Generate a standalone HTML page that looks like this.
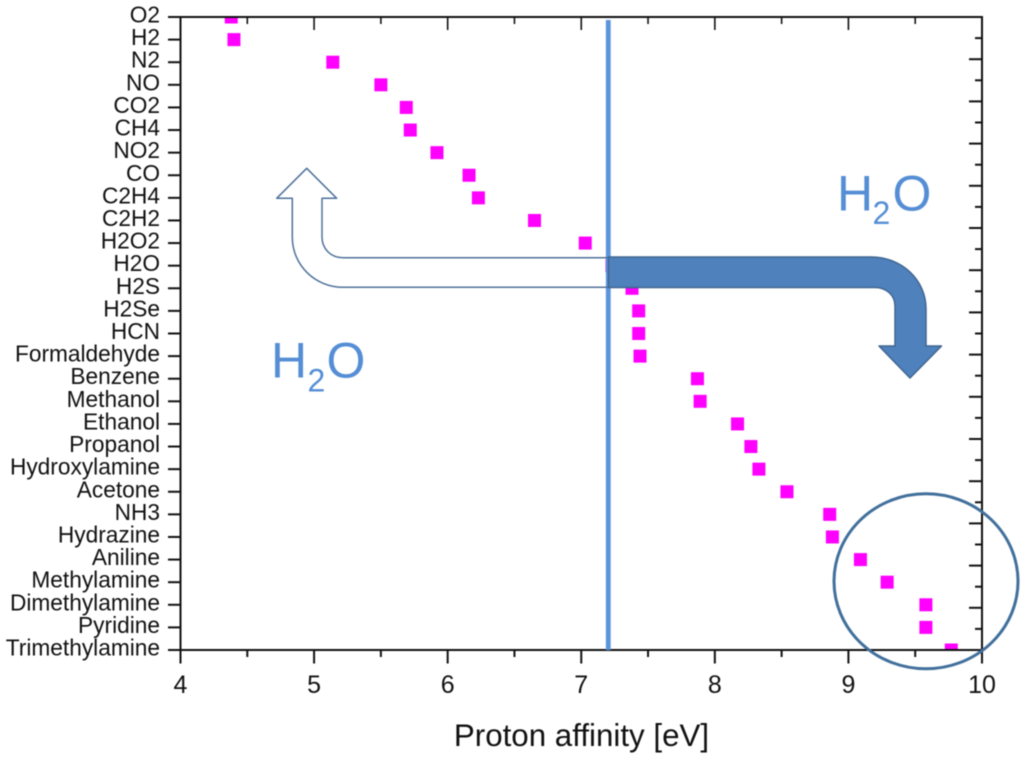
<!DOCTYPE html>
<html lang="en">
<head>
<meta charset="utf-8">
<title>Proton affinity chart</title>
<style>
  html, body { margin: 0; padding: 0; background: #fff; }
  body { width: 1024px; height: 758px; overflow: hidden; }
  svg { display: block; filter: blur(0.4px); }
  text { font-family: "Liberation Sans", sans-serif; fill: #111; }
</style>
</head>
<body>
<svg id="chart" xmlns="http://www.w3.org/2000/svg" width="1024" height="758" viewBox="0 0 1024 758">
  <defs>
    <clipPath id="plot-clip"><rect x="180.5" y="17" width="801.5" height="633"></rect></clipPath>
  </defs>
  <rect x="0" y="0" width="1024" height="758" fill="#ffffff"></rect>
  <g id="markers" clip-path="url(#plot-clip)"></g>
  <g id="axes"></g>
  <g id="threshold"></g>

  <path fill="none" stroke="#4f719b" stroke-width="1.5" stroke-linejoin="round"
        d="M608 257.7 H343 C330 257.7 322 248 322 237 V198.3 H336.7 L306.7 168.3 L276.7 198.3 H292.3 V237 C292.3 266 316 287.3 343 287.3 H608"></path>
  <path fill="#4f81bd" stroke="#3f6590" stroke-width="1.5" stroke-linejoin="round"
        d="M608.5 257 H871 C902 257 926 280 926 309 V346 H941.5 L910 378 L879 346 H895 V306 C895 295 886 287.5 875 287.5 H608.5 Z"></path>
  <ellipse cx="926" cy="581.3" rx="92" ry="87.5" fill="none" stroke="#41709c" stroke-width="3"></ellipse>

  <g style="font-size:50px">
    <text x="271" y="377.7" style="fill:#558ed5">H</text>
    <text x="307.5" y="391.7" style="fill:#558ed5;font-size:32px">2</text>
    <text x="326.5" y="377.7" style="fill:#558ed5">O</text>
  </g>
  <g style="font-size:50px">
    <text x="837" y="210.3" style="fill:#558ed5">H</text>
    <text x="872.5" y="224" style="fill:#558ed5;font-size:32px">2</text>
    <text x="892.5" y="210.3" style="fill:#558ed5">O</text>
  </g>
</svg>
<script>
const molecules = ["O2","H2","N2","NO","CO2","CH4","NO2","CO","C2H4","C2H2","H2O2","H2O","H2S","H2Se","HCN","Formaldehyde","Benzene","Methanol","Ethanol","Propanol","Hydroxylamine","Acetone","NH3","Hydrazine","Aniline","Methylamine","Dimethylamine","Pyridine","Trimethylamine"];
const protonAffinity = [4.38,4.40,5.14,5.50,5.69,5.72,5.92,6.16,6.23,6.65,7.03,7.23,7.38,7.43,7.43,7.44,7.87,7.89,8.17,8.27,8.33,8.54,8.86,8.88,9.09,9.29,9.58,9.58,9.77];
const xTickLabels = [4,5,6,7,8,9,10];
const xMinorTicks = [4.5,5.5,6.5,7.5,8.5,9.5];
const waterThreshold = [7.2];
const rightAxisDivisions = [30];

const plotLeft = 180.5, plotRight = 982, plotTop = 17, plotBottom = 650;
const NS = "http://www.w3.org/2000/svg";
const xMin = xTickLabels[0], xMax = xTickLabels[xTickLabels.length - 1];

function xScale(v) { return plotLeft + (v - xMin) * (plotRight - plotLeft) / (xMax - xMin); }
function yScale(i) { return plotTop + i * (plotBottom - plotTop) / (molecules.length - 1); }
function yRightScale(i) { return plotTop + i * (plotBottom - plotTop) / rightAxisDivisions[0]; }

function line(parent, x1, y1, x2, y2, w, color) {
  const l = document.createElementNS(NS, "line");
  l.setAttribute("x1", x1); l.setAttribute("y1", y1);
  l.setAttribute("x2", x2); l.setAttribute("y2", y2);
  l.setAttribute("stroke", color || "#111");
  l.setAttribute("stroke-width", w);
  parent.appendChild(l);
  return l;
}
function label(parent, x, y, str, size, anchor) {
  const t = document.createElementNS(NS, "text");
  t.setAttribute("x", x); t.setAttribute("y", y);
  t.setAttribute("text-anchor", anchor);
  t.style.fontSize = size + "px";
  t.textContent = str;
  parent.appendChild(t);
  return t;
}

const axes = document.getElementById("axes");
const markers = document.getElementById("markers");
const threshold = document.getElementById("threshold");

/* markers */
protonAffinity.forEach(function (v, i) {
  const s = 13;
  const r = document.createElementNS(NS, "rect");
  r.setAttribute("x", xScale(v) - s / 2);
  r.setAttribute("y", yScale(i) - s / 2);
  r.setAttribute("width", s);
  r.setAttribute("height", s);
  r.setAttribute("fill", "#ff00ff");
  
  
  markers.appendChild(r);
});

/* threshold line */
const thresholdLine = line(threshold, xScale(waterThreshold[0]) + 0.3, 20, xScale(waterThreshold[0]) + 0.3, plotBottom, 4.8, "#5a94dc");



/* frame */
const frame = document.createElementNS(NS, "rect");
frame.setAttribute("x", plotLeft);
frame.setAttribute("y", plotTop);
frame.setAttribute("width", plotRight - plotLeft);
frame.setAttribute("height", plotBottom - plotTop);
frame.setAttribute("fill", "none");
frame.setAttribute("stroke", "#111");
frame.setAttribute("stroke-width", "2");


axes.appendChild(frame);

/* y axis */
molecules.forEach(function (name, i) {
  const y = yScale(i);
  const tick = line(axes, 168, y, plotLeft, y, 2);
  
  
  const lab = label(axes, 160, y + 5.5, name, 22.7, "end");
  
  
});

/* right axis inward ticks */
for (let i = 1; i < rightAxisDivisions[0]; i++) {
  const y = yRightScale(i);
  const len = i % 2 === 0 ? 13 : 7;
  const tick = line(axes, plotRight - len, y, plotRight, y, 2);
  
  
}

/* x axis */
xTickLabels.forEach(function (v) {
  const x = xScale(v);
  const bottomTick = line(axes, x, plotBottom, x, 663.5, 2);
  
  
  const topTick = line(axes, x, plotTop, x, plotTop + 13, 1.6);
  
  
  const lab = label(axes, x, 693, String(v), 25, "middle");
  
  
});
xMinorTicks.forEach(function (v) {
  const x = xScale(v);
  const bottomTick = line(axes, x, plotBottom, x, 657, 2);
  
  
  const topTick = line(axes, x, plotTop, x, plotTop + 7, 1.6);
  
  
});

const xTitle = label(axes, 581.5, 746, "Proton affinity [eV]", 31.3, "middle");


</script>
</body>
</html>
